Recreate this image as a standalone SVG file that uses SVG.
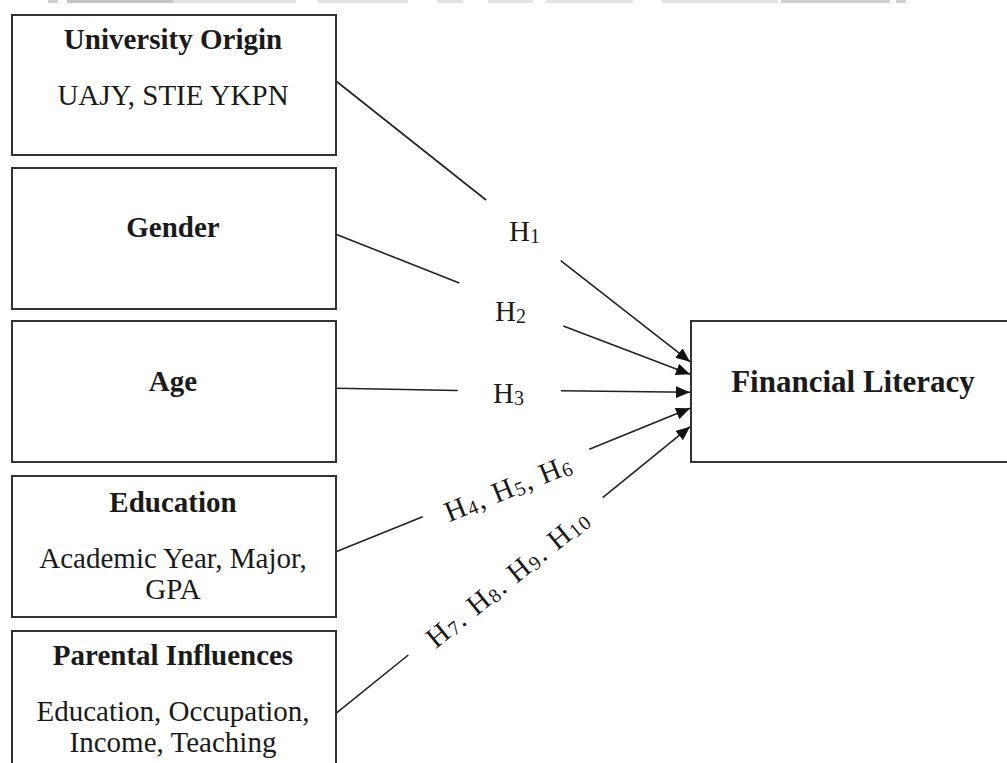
<svg xmlns="http://www.w3.org/2000/svg" width="1007" height="763" viewBox="0 0 1007 763">
<style>
.box{fill:#fff;stroke:#333;stroke-width:2}
.t{font-family:"Liberation Serif","Times New Roman",serif;fill:#1a1a1a;text-anchor:middle}
.b{font-weight:bold;font-size:29px}
.r{font-size:29px}
.fl{font-weight:bold;font-size:31px}
.h{font-family:"Liberation Serif","Times New Roman",serif;fill:#1a1a1a;font-size:29px}
.s{font-size:20px}
.c{fill:none;stroke:#222;stroke-width:1.6}
.bar{fill:#d0d0d0}
</style>
<defs>
<marker id="ah" markerUnits="userSpaceOnUse" markerWidth="15" markerHeight="13" refX="14" refY="6" orient="auto">
<path d="M0,0 L14,6 L0,12 z" fill="#111"/>
</marker>
</defs>
<rect width="1007" height="763" fill="#fff"/>
<g id="topbars">
<rect class="bar" x="48" y="0" width="10" height="3"/>
<rect class="bar" x="67" y="0" width="106" height="3" style="fill:#c4c4c4"/>
<rect class="bar" x="173" y="0" width="123" height="3" style="fill:#e4e4e4"/>
<rect class="bar" x="318" y="0" width="90" height="3" style="fill:#e4e4e4"/>
<rect class="bar" x="437" y="0" width="26" height="3" style="fill:#e4e4e4"/>
<rect class="bar" x="488" y="0" width="45" height="3" style="fill:#e4e4e4"/>
<rect class="bar" x="546" y="0" width="87" height="3" style="fill:#e4e4e4"/>
<rect class="bar" x="662" y="0" width="116" height="3" style="fill:#e4e4e4"/>
<rect class="bar" x="781" y="0" width="109" height="3"/>
<rect class="bar" x="896" y="0" width="10" height="3"/>
</g>
<g id="connectors">
<line class="c" x1="336" y1="81" x2="486" y2="200"/>
<line class="c" x1="560.7" y1="260.7" x2="690" y2="361.7" marker-end="url(#ah)"/>
<line class="c" x1="336" y1="234.3" x2="459.3" y2="283"/>
<line class="c" x1="563.3" y1="326" x2="690" y2="374.3" marker-end="url(#ah)"/>
<line class="c" x1="336" y1="388.3" x2="457.7" y2="390.5"/>
<line class="c" x1="561" y1="390.7" x2="690" y2="392.3" marker-end="url(#ah)"/>
<line class="c" x1="336" y1="551.7" x2="422.7" y2="516.7"/>
<line class="c" x1="589.3" y1="449.3" x2="690" y2="408.3" marker-end="url(#ah)"/>
<line class="c" x1="336" y1="713.3" x2="408.3" y2="655"/>
<line class="c" x1="602.7" y1="497.7" x2="690" y2="426.7" marker-end="url(#ah)"/>
</g>
<g id="labels">
<text class="h" x="509" y="241">H<tspan class="s" dy="2">1</tspan></text>
<text class="h" x="495" y="321">H<tspan class="s" dy="2">2</tspan></text>
<text class="h" x="493" y="403">H<tspan class="s" dy="2">3</tspan></text>
<text class="h" transform="translate(507,486) rotate(-22)" x="0" y="12" text-anchor="middle" textLength="134" lengthAdjust="spacing">H<tspan class="s" dy="2">4</tspan><tspan dy="-2">, H</tspan><tspan class="s" dy="2">5</tspan><tspan dy="-2">, H</tspan><tspan class="s" dy="2">6</tspan></text>
<text class="h" transform="translate(506,577) rotate(-39)" x="0" y="12" text-anchor="middle" textLength="200" lengthAdjust="spacing">H<tspan class="s" dy="2">7</tspan><tspan dy="-2">. H</tspan><tspan class="s" dy="2">8</tspan><tspan dy="-2">. H</tspan><tspan class="s" dy="2">9</tspan><tspan dy="-2">. H</tspan><tspan class="s" dy="2">10</tspan></text>
</g>
<g id="university">
<rect class="box" x="12" y="15" width="324" height="140"/>
<text class="t b" x="173" y="49">University Origin</text>
<text class="t r" x="173" y="105">UAJY, STIE YKPN</text>
</g>
<g id="gender">
<rect class="box" x="12" y="168" width="324" height="141"/>
<text class="t b" x="173" y="237">Gender</text>
</g>
<g id="age">
<rect class="box" x="12" y="321" width="324" height="141"/>
<text class="t b" x="173" y="391">Age</text>
</g>
<g id="education">
<rect class="box" x="12" y="476" width="324" height="141"/>
<text class="t b" x="173" y="512">Education</text>
<text class="t r" x="173" y="568">Academic Year, Major,</text>
<text class="t r" x="173" y="599">GPA</text>
</g>
<g id="parental">
<rect class="box" x="12" y="631" width="324" height="150"/>
<text class="t b" x="173" y="665">Parental Influences</text>
<text class="t r" x="173" y="721">Education, Occupation,</text>
<text class="t r" x="173" y="752">Income, Teaching</text>
</g>
<g id="financial">
<rect class="box" x="691" y="321" width="320" height="141"/>
<text class="t fl" x="853" y="392">Financial Literacy</text>
</g>
</svg>
